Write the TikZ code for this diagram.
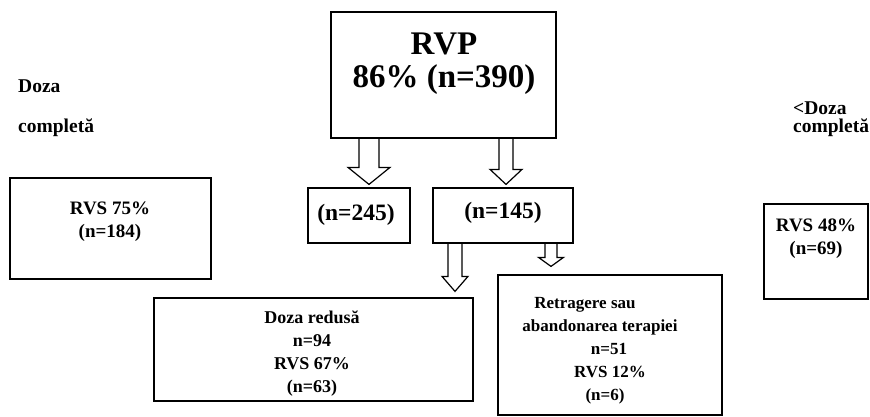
\documentclass[tikz,border=0pt]{standalone}
\usepackage{fontspec}
\setmainfont{Liberation Serif}
\usetikzlibrary{calc}

% hollow block arrow: from, to, axis x, shaft half-width, head half-width,
% head length, gap between tip and target
\newcommand\blockarrow[7]{%
  \pgfmathsetmacro\baL{#3-#4}%
  \pgfmathsetmacro\baR{#3+#4}%
  \pgfmathsetmacro\bhL{#3-#5}%
  \pgfmathsetmacro\bhR{#3+#5}%
  \pgfmathsetmacro\bhS{#6+#7}%
  \draw[barrow] (\baL,0 |- #1.south)
    -- ([yshift=\bhS pt]\baL,0 |- #2.north)
    -- ([yshift=\bhS pt]\bhL,0 |- #2.north)
    -- ([yshift=#7pt]#3,0 |- #2.north)
    -- ([yshift=\bhS pt]\bhR,0 |- #2.north)
    -- ([yshift=\bhS pt]\baR,0 |- #2.north)
    -- (\baR,0 |- #1.south);%
}

\begin{document}
\begin{tikzpicture}[x=1pt,y=-1pt,
  box/.style={draw, line width=1.2pt, inner sep=0pt},
  txt/.style={inner sep=0pt, align=center},
  big/.style={txt, font=\fontsize{33}{33}\selectfont\bfseries},
  mid/.style={txt, font=\fontsize{23.5}{24}\selectfont\bfseries},
  small/.style={txt, font=\fontsize{19}{23}\selectfont\bfseries},
  body/.style={txt, font=\fontsize{18}{23}\selectfont\bfseries},
  side/.style={inner sep=0pt, anchor=base west, font=\fontsize{19.5}{22}\selectfont\bfseries},
  barrow/.style={line width=1.2pt, line join=miter}]

\useasboundingbox (0,0) rectangle (870,417);
\fill[white] (0,0) rectangle (870,417);

% frames
\node[box, minimum width=225pt, minimum height=126pt] (rvp)    at (443.5,75)   {};
\node[box, minimum width=102pt, minimum height=55pt]  (n245)   at (359,215.5)  {};
\node[box, minimum width=140pt, minimum height=55pt]  (n145)   at (503,215.5)  {};
\node[box, minimum width=201pt, minimum height=101pt] (rvs75)  at (110.5,228.5) {};
\node[box, minimum width=104pt, minimum height=95pt]  (rvs48)  at (816,251.5)  {};
\node[box, minimum width=319pt, minimum height=103pt] (redusa) at (313.5,349.5) {};
\node[box, minimum width=224pt, minimum height=140pt] (retrag) at (610,345)    {};

% contents
\node[big]   (trvp)    at (444,64)  {RVP\\86\% (n=390)};
\node[mid]   (t245)    at (356,215) {(n=245)};
\node[mid]   (t145)    at (503,213) {(n=145)};
\node[small] (t75)     at (110,222) {RVS 75\%\\(n=184)};
\node[small] (t48)     at (816,239) {RVS 48\%\\(n=69)};
\node[body]  (tredusa) at (312,354) {Doza redusă\\n=94\\RVS 67\%\\(n=63)};
\node[body, font=\fontsize{17}{23}\selectfont\bfseries]
             (tretrag) at (600,351)
  {Retragere sau\hspace*{30pt}\\abandonarea terapiei\hspace*{10pt}\\
   \hspace*{18pt}n=51\\\hspace*{20pt}RVS 12\%\\\hspace*{10pt}(n=6)};

% side headings
\node[side] (ldoza) at (18,93)  {Doza};
\node[side] (lcomp) at (18,132) {completă};
\node[side] (rdoza) at (793,115) {<Doza};
\node[side] (rcomp) at (793,133) {completă};

% block arrows
\blockarrow{rvp}{n245}{369}{10}{21}{17}{3}
\blockarrow{rvp}{n145}{506}{7}{16}{15}{3}
\blockarrow{n145}{redusa}{455}{7}{13}{15}{6}
\blockarrow{n145}{retrag}{551}{6}{12.5}{9}{8}

\end{tikzpicture}
\end{document}
